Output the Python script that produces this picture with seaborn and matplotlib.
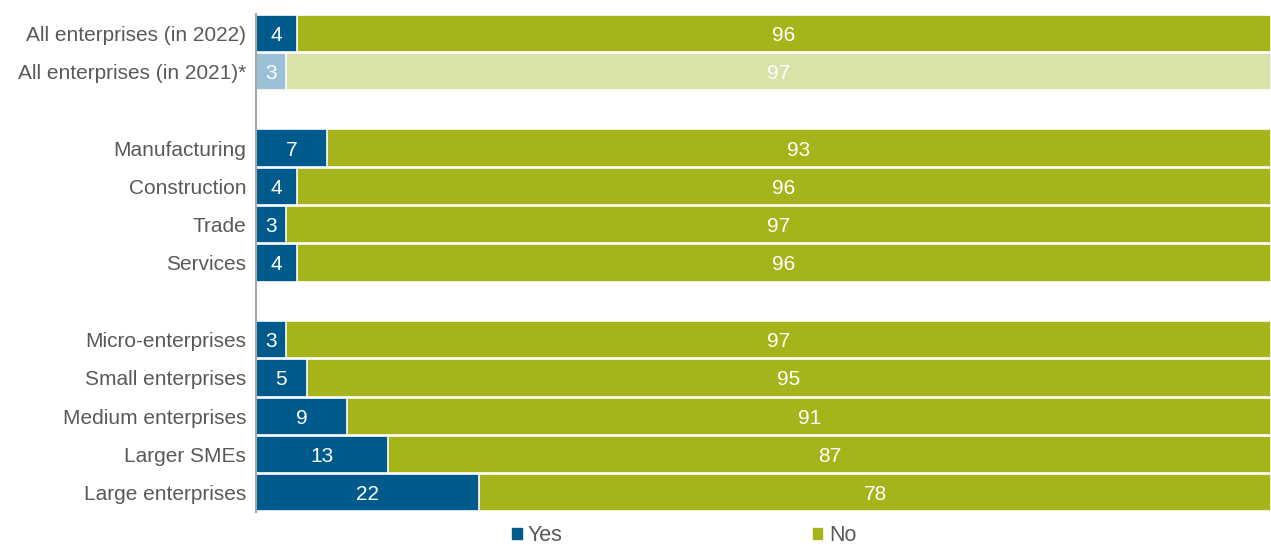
import pandas as pd
import seaborn as sns
import matplotlib.pyplot as plt
from matplotlib.patches import Patch

# data
categories = ['All enterprises (in 2022)', 'All enterprises (in 2021)*', ' ',
              'Manufacturing', 'Construction', 'Trade', 'Services', '  ',
              'Micro-enterprises', 'Small enterprises', 'Medium enterprises',
              'Larger SMEs', 'Large enterprises']
yes_vals = [4, 3, None, 7, 4, 3, 4, None, 3, 5, 9, 13, 22]
no_vals = [96, 97, None, 93, 96, 97, 96, None, 97, 95, 91, 87, 78]

blue, green = '#005a8c', '#a5b41a'
blue_light, green_light = '#9cc0d5', '#dbe2a8'
text_grey = '#595959'

df = pd.DataFrame({'cat': categories, 'yes': yes_vals, 'no': no_vals})
df['total'] = df['yes'] + df['no']

yes_colors = [blue_light if '2021' in c else blue for c in categories]
no_colors = [green_light if '2021' in c else green for c in categories]

sns.set_style('white')
plt.rcParams['font.family'] = ['Liberation Sans', 'DejaVu Sans']

fig = plt.figure(figsize=(12.71, 5.49), dpi=100)
ax = fig.add_axes([256 / 1271, 1 - 512 / 549, 1 - 256 / 1271, (512 - 14) / 549])

# full bar (No) then Yes on top
sns.barplot(data=df, y='cat', x='total', hue='cat', palette=no_colors,
            order=categories, hue_order=categories, legend=False, saturation=1,
            width=0.97, edgecolor='white', linewidth=1.2, ax=ax, orient='h')
sns.barplot(data=df, y='cat', x='yes', hue='cat', palette=yes_colors,
            order=categories, hue_order=categories, legend=False, saturation=1,
            width=0.97, edgecolor='white', linewidth=1.2, ax=ax, orient='h')

# value labels
for i, (y, n) in enumerate(zip(yes_vals, no_vals)):
    if y is None:
        continue
    ax.text(y / 2, i, str(y), color='white', ha='center', va='center_baseline', fontsize=15)
    ax.text(y + n / 2, i, str(n), color='white', ha='center', va='center_baseline', fontsize=15)

ax.set_xlim(0, 100)
ax.set_ylim(12.5, -0.5)
ax.set_xlabel('')
ax.set_ylabel('')
ax.set_xticks([])
ax.tick_params(axis='y', length=0, labelsize=15, labelcolor=text_grey, pad=7)
for s in ['top', 'right', 'bottom']:
    ax.spines[s].set_visible(False)
ax.spines['left'].set_color('#a6a6a6')
ax.spines['left'].set_linewidth(1.5)

handles = [Patch(color=blue, label='Yes'), Patch(color=green, label='No')]
fig.legend(handles=handles, loc='lower center', bbox_to_anchor=(684 / 1271, -0.03),
           ncol=2, frameon=False, fontsize=15.5, handlelength=0.45, handleheight=0.45,
           handletextpad=0.3, columnspacing=11.6, labelcolor=text_grey)

fig.savefig('out.png', dpi=100)
